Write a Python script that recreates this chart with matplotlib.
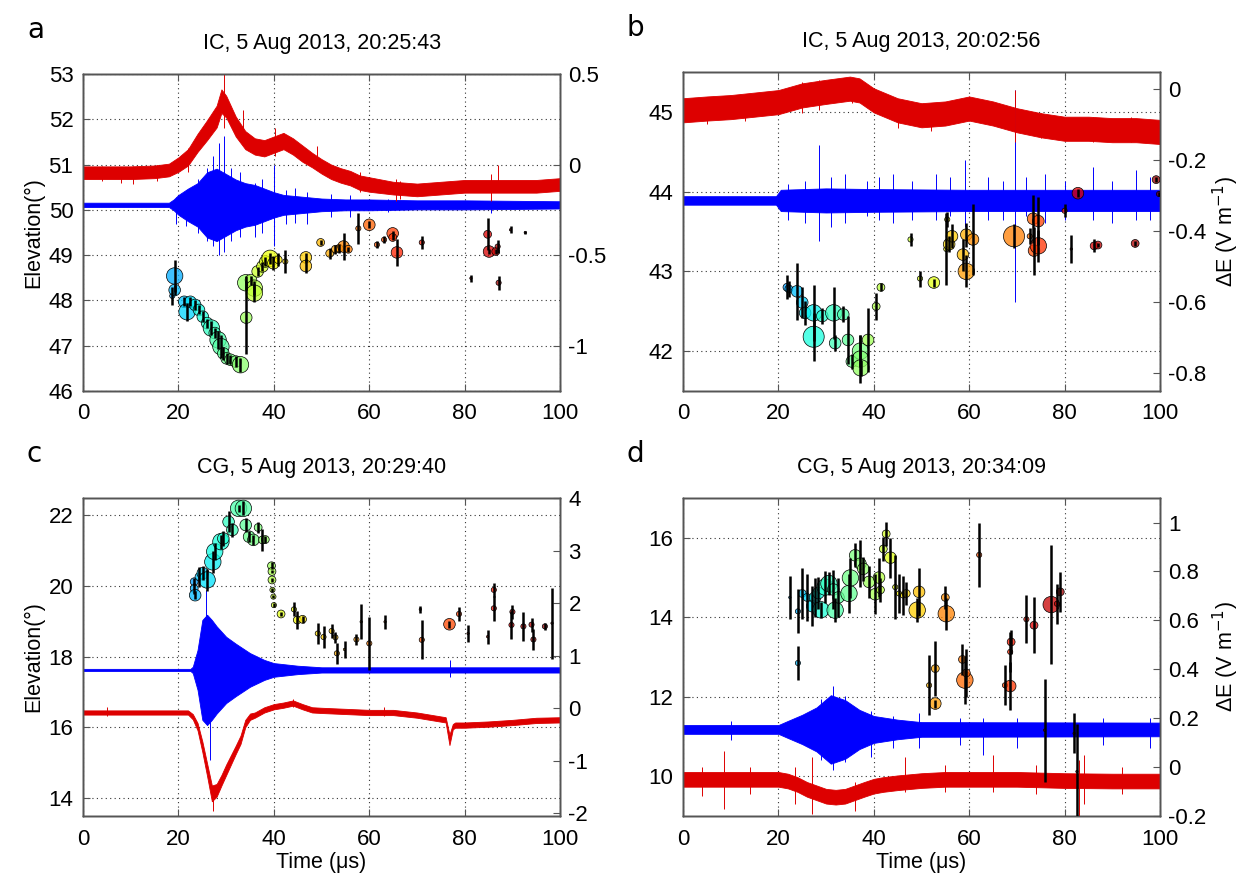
import numpy as np
import matplotlib
matplotlib.use("Agg")
import matplotlib.pyplot as plt
from matplotlib.ticker import FormatStrFormatter

plt.rcParams['font.family'] = ['Liberation Sans', 'DejaVu Sans']
plt.rcParams['axes.unicode_minus'] = False

# ---------------- data ----------------
# source points: (time us, elevation deg, error half-length deg, size class)
a_points = [
    (18.7, 48.10, 0.20, 1), (19.2, 48.54, 0.35, 4), (19.2, 48.23, 0.10, 3),
    (21.2, 47.97, 0.10, 3), (21.8, 47.75, 0.20, 4), (22.5, 47.97, 0.10, 3),
    (23.5, 47.90, 0.12, 3), (24.3, 47.79, 0.10, 3), (25.1, 47.64, 0.12, 3),
    (26.0, 47.50, 0.10, 3), (26.9, 47.39, 0.15, 4), (27.6, 47.28, 0.12, 3),
    (28.3, 47.13, 0.20, 4), (28.9, 46.98, 0.25, 4), (29.4, 46.83, 0.15, 3),
    (30.1, 46.72, 0.12, 3), (30.9, 46.69, 0.10, 3), (32.0, 46.65, 0.12, 3),
    (33.0, 46.58, 0.15, 4), (34.1, 48.39, 0.15, 4), (34.2, 47.62, 0.80, 3),
    (35.2, 48.45, 0.10, 3), (35.9, 48.27, 0.15, 4), (35.9, 48.16, 0.20, 4),
    (36.6, 48.64, 0.10, 3), (37.6, 48.75, 0.10, 3), (38.2, 48.86, 0.10, 3),
    (39.2, 48.93, 0.12, 4), (39.9, 48.82, 0.15, 3), (40.9, 48.90, 0.15, 2),
    (42.4, 48.86, 0.25, 1), (46.7, 48.95, 0.10, 3), (46.7, 48.76, 0.15, 3),
    (49.8, 49.28, 0.05, 2), (51.7, 49.04, 0.12, 2), (52.9, 49.13, 0.10, 2),
    (53.7, 49.15, 0.10, 2), (54.6, 49.19, 0.30, 3), (55.6, 49.13, 0.05, 2),
    (57.7, 49.59, 0.35, 1), (60.0, 49.67, 0.08, 3), (61.6, 49.23, 0.08, 1),
    (63.1, 49.34, 0.08, 1), (64.9, 49.48, 0.05, 3), (64.9, 49.39, 0.05, 2),
    (65.8, 49.06, 0.30, 3), (71.0, 49.28, 0.15, 1), (81.3, 48.49, 0.08, 0),
    (84.8, 49.46, 0.35, 2), (85.1, 49.08, 0.05, 3), (86.5, 49.08, 0.05, 2),
    (86.9, 49.19, 0.15, 1), (87.1, 48.39, 0.15, 1), (89.6, 49.56, 0.08, 0),
    (92.7, 49.50, 0.03, 0),
]
b_points = [
    (21.8, 42.80, 0.15, 2), (22.2, 42.78, 0.10, 2), (23.9, 42.75, 0.36, 3),
    (25.0, 42.61, 0.20, 3), (25.6, 42.48, 0.15, 3), (27.4, 42.48, 0.35, 4),
    (27.4, 42.18, 0.30, 5), (29.2, 42.44, 0.10, 3), (31.6, 42.48, 0.33, 4),
    (31.9, 42.10, 0.10, 3), (33.6, 42.46, 0.10, 3), (34.6, 42.14, 0.30, 3),
    (35.4, 41.87, 0.10, 3), (37.2, 42.00, 0.20, 4), (37.2, 41.90, 0.30, 4),
    (37.3, 41.79, 0.10, 4), (38.8, 42.14, 0.40, 3), (40.5, 42.56, 0.17, 2),
    (41.5, 42.80, 0.05, 2), (47.7, 43.40, 0.08, 1), (49.7, 42.91, 0.10, 1),
    (52.6, 42.86, 0.05, 3), (55.2, 43.28, 0.45, 1), (55.4, 43.65, 0.10, 1),
    (55.8, 43.34, 0.10, 3), (56.4, 43.44, 0.15, 3), (58.7, 43.21, 0.20, 3),
    (59.4, 43.46, 0.15, 3), (59.4, 43.00, 0.20, 4), (60.8, 43.40, 0.45, 3),
    (69.4, 43.44, 0.15, 5), (72.7, 43.44, 0.10, 1), (73.4, 43.66, 0.30, 3),
    (73.6, 43.26, 0.30, 3), (74.5, 43.63, 0.30, 3), (74.5, 43.32, 0.20, 4),
    (80.0, 43.76, 0.08, 1), (81.4, 43.28, 0.17, 0), (82.8, 43.98, 0.05, 3),
    (86.2, 43.32, 0.08, 2), (87.0, 43.33, 0.03, 2), (94.8, 43.35, 0.03, 2),
    (99.2, 44.15, 0.03, 2), (99.8, 43.97, 0.03, 1),
]
c_points = [
    (23.3, 20.11, 0.10, 2), (23.3, 19.92, 0.15, 2), (23.5, 19.73, 0.12, 3),
    (24.3, 20.25, 0.28, 2), (25.1, 20.35, 0.20, 3), (26.0, 20.16, 0.30, 4),
    (27.2, 20.67, 0.30, 4), (27.6, 20.96, 0.25, 4), (28.9, 21.24, 0.20, 4),
    (29.4, 21.33, 0.20, 3), (30.5, 21.80, 0.30, 3), (31.3, 21.57, 0.20, 3),
    (32.6, 22.18, 0.10, 4), (33.6, 22.18, 0.20, 4), (34.1, 21.71, 0.20, 3),
    (34.8, 21.38, 0.15, 3), (35.7, 21.29, 0.15, 3), (36.7, 21.64, 0.15, 2),
    (37.6, 21.29, 0.30, 2), (38.2, 21.30, 0.10, 2), (39.5, 20.56, 0.10, 2),
    (39.6, 20.40, 0.05, 2), (39.6, 20.16, 0.05, 2), (39.7, 19.88, 0.05, 1),
    (39.9, 19.69, 0.05, 1), (40.0, 19.45, 0.05, 1), (41.5, 19.20, 0.05, 2),
    (44.2, 19.33, 0.20, 1), (44.9, 19.03, 0.25, 2), (46.0, 19.05, 0.10, 2),
    (49.2, 18.65, 0.30, 1), (50.4, 18.55, 0.30, 1), (52.1, 18.72, 0.20, 1),
    (52.9, 18.54, 0.15, 1), (53.2, 18.09, 0.30, 1), (54.8, 18.20, 0.25, 0),
    (57.3, 18.48, 0.15, 1), (58.3, 18.98, 0.50, 0), (60.0, 18.37, 0.75, 1),
    (63.3, 18.98, 0.20, 0), (70.7, 19.33, 0.10, 0), (71.0, 18.47, 0.55, 1),
    (76.8, 18.91, 0.10, 3), (78.8, 19.20, 0.20, 1), (80.7, 18.65, 0.25, 0),
    (84.8, 18.56, 0.20, 0), (86.1, 19.88, 0.20, 1), (86.1, 19.36, 0.35, 1),
    (89.8, 18.89, 0.40, 1), (90.0, 19.26, 0.20, 1), (92.3, 18.85, 0.40, 1),
    (94.0, 18.90, 0.20, 1), (94.4, 18.48, 0.30, 1), (96.8, 18.85, 0.10, 1),
    (98.3, 18.94, 1.00, 0),
]
d_points = [
    (22.4, 14.50, 0.55, 0), (24.1, 14.15, 0.55, 1), (24.1, 12.85, 0.42, 1),
    (25.0, 14.60, 0.65, 2), (26.0, 14.50, 0.60, 2), (27.1, 14.28, 0.50, 3),
    (27.7, 14.50, 0.50, 3), (28.4, 14.61, 0.40, 3), (28.9, 14.19, 0.20, 4),
    (29.8, 14.76, 0.40, 4), (30.6, 14.85, 0.30, 4), (31.5, 14.70, 0.50, 3),
    (31.9, 14.18, 0.30, 4), (32.6, 14.50, 0.50, 3), (34.8, 14.60, 0.50, 4),
    (35.1, 14.99, 0.50, 4), (36.1, 15.56, 0.30, 3), (37.2, 15.35, 0.60, 3),
    (37.8, 15.22, 0.30, 3), (39.0, 14.89, 0.40, 3), (40.3, 14.58, 0.50, 3),
    (41.1, 15.00, 0.50, 3), (41.4, 14.69, 0.30, 2), (42.0, 15.72, 0.30, 2),
    (42.6, 16.10, 0.30, 2), (43.5, 15.50, 0.50, 3), (44.5, 14.76, 0.80, 1),
    (45.3, 14.60, 0.50, 1), (46.1, 14.55, 0.50, 1), (46.8, 14.60, 0.30, 2),
    (49.1, 14.18, 0.30, 4), (49.5, 14.64, 0.60, 3), (51.6, 12.29, 0.75, 1),
    (52.9, 12.71, 0.70, 2), (52.9, 11.83, 0.10, 3), (55.0, 14.50, 0.30, 2),
    (55.2, 14.09, 0.40, 4), (58.6, 12.94, 0.40, 2), (59.1, 12.42, 0.60, 4),
    (59.4, 12.60, 0.60, 2), (62.1, 15.57, 0.80, 1), (67.5, 12.29, 0.50, 1),
    (68.6, 12.27, 0.60, 3), (68.6, 13.13, 0.50, 1), (68.8, 13.38, 0.30, 2),
    (72.0, 13.95, 0.60, 1), (73.6, 13.80, 0.70, 2), (75.8, 11.16, 1.30, 0),
    (77.2, 14.32, 1.50, 4), (78.4, 14.34, 0.50, 1), (79.1, 14.64, 0.50, 2),
    (82.0, 11.08, 0.50, 0), (82.6, 10.12, 1.20, 0),
]

# field change records (V/m): envelope centre and half-width vs time
a_red_t = [0, 5, 10, 15, 18, 20, 22, 24, 26, 28, 29, 30, 32, 34, 36, 38, 40, 42, 44,
           46, 48, 50, 52, 54, 56, 58, 60, 65, 70, 75, 80, 85, 90, 95, 100]
a_red_mid = [-0.045, -0.045, -0.045, -0.04, -0.03, 0.0, 0.04, 0.12, 0.19, 0.265, 0.35,
             0.32, 0.21, 0.135, 0.10, 0.09, 0.11, 0.13, 0.10, 0.06, 0.025, -0.01, -0.04,
             -0.06, -0.075, -0.10, -0.11, -0.13, -0.14, -0.13, -0.12, -0.12, -0.12,
             -0.12, -0.11]
a_red_half = [0.035, 0.035, 0.035, 0.035, 0.035, 0.04, 0.045, 0.05, 0.055, 0.06, 0.065,
              0.06, 0.055, 0.05, 0.045, 0.045, 0.045, 0.045, 0.045, 0.045, 0.04, 0.04,
              0.04, 0.04, 0.04, 0.04, 0.04, 0.035, 0.035, 0.035, 0.035, 0.035, 0.035,
              0.035, 0.035]
a_blue_t = [0, 18, 19, 20, 22, 24, 26, 28, 30, 32, 34, 36, 38, 40, 42, 44, 46, 50, 55,
            60, 70, 80, 100]
a_blue_mid = -0.2225
a_blue_half = [0.012, 0.012, 0.03, 0.055, 0.09, 0.12, 0.18, 0.20, 0.17, 0.14, 0.12, 0.11,
               0.09, 0.07, 0.055, 0.05, 0.045, 0.035, 0.03, 0.03, 0.025, 0.025, 0.02]
a_red_spikes = [(29.6, 0.20, 0.50), (10.5, -0.11, -0.01), (65.5, -0.20, -0.08),
                (85.5, -0.20, -0.05), (87.0, -0.15, 0.0), (22.0, -0.04, 0.09),
                (33.5, 0.12, 0.30), (40.2, 0.05, 0.20), (49.0, -0.03, 0.10),
                (58.0, -0.15, -0.04), (66.5, -0.19, -0.09), (8.0, -0.10, -0.02),
                (4.0, -0.09, -0.01), (15.5, -0.09, 0.0)]
a_blue_spikes = [(28.5, -0.50, 0.12), (29.6, -0.48, 0.155), (27.2, -0.45, 0.05),
                 (40.1, -0.45, 0.0), (36.0, -0.40, -0.10), (47.0, -0.33, -0.15),
                 (19.5, -0.33, -0.18), (21.5, -0.34, -0.14), (24.0, -0.38, -0.08),
                 (26.0, -0.42, -0.02), (31.0, -0.42, -0.02), (33.0, -0.40, -0.04),
                 (37.5, -0.38, -0.08), (42.5, -0.33, -0.14), (44.5, -0.32, -0.13),
                 (52.0, -0.29, -0.16), (56.0, -0.29, -0.17), (64.0, -0.26, -0.19),
                 (85.5, -0.27, -0.19)]

b_red_t = [0, 5, 10, 15, 20, 25, 30, 35, 37, 40, 45, 50, 55, 60, 65, 70, 75, 80, 85,
           90, 95, 100]
b_red_mid = [-0.061, -0.056, -0.052, -0.045, -0.038, -0.019, -0.009, 0.0, -0.005,
             -0.033, -0.061, -0.075, -0.07, -0.056, -0.07, -0.089, -0.103, -0.113,
             -0.113, -0.117, -0.117, -0.122]
b_red_half = [0.034] * 22
b_blue_t = [0, 19.5, 20.5, 30, 40, 60, 80, 100]
b_blue_mid = -0.315
b_blue_half = [0.012, 0.012, 0.03, 0.034, 0.032, 0.03, 0.03, 0.03]
b_red_spikes = [(69.6, -0.15, -0.005), (60.0, -0.09, -0.02), (25.0, -0.07, 0.02),
                (28.5, -0.06, 0.025), (35.5, -0.04, 0.03), (45.0, -0.11, -0.03),
                (52.0, -0.12, -0.04), (75.0, -0.14, -0.07), (86.0, -0.15, -0.08),
                (94.0, -0.15, -0.08), (5.0, -0.10, -0.03), (13.0, -0.09, -0.02)]
b_blue_spikes = [(28.5, -0.43, -0.16), (59.2, -0.39, -0.20), (69.6, -0.60, -0.005),
                 (44.0, -0.38, -0.24), (34.0, -0.38, -0.24), (38.5, -0.36, -0.26),
                 (86.0, -0.37, -0.22), (95.0, -0.37, -0.23), (53.0, -0.37, -0.24),
                 (64.0, -0.37, -0.25), (76.0, -0.38, -0.24), (22.0, -0.37, -0.27),
                 (25.5, -0.38, -0.26), (31.0, -0.39, -0.25), (41.0, -0.37, -0.25),
                 (48.0, -0.37, -0.26), (56.0, -0.36, -0.25), (67.0, -0.37, -0.26),
                 (72.0, -0.36, -0.25), (80.0, -0.37, -0.26), (90.0, -0.38, -0.26),
                 (98.0, -0.37, -0.25)]

c_red_t = [0, 22, 23, 24, 25, 26, 27, 28, 29, 30, 31, 32, 33, 34, 35, 36, 38, 40, 42,
           44, 46, 48, 50, 55, 60, 65, 70, 74, 76, 76.8, 77.5, 78, 80, 85, 90, 95, 100]
c_red_mid = [-0.08, -0.08, -0.16, -0.35, -0.73, -1.17, -1.62, -1.56, -1.37, -1.17,
             -0.98, -0.79, -0.60, -0.29, -0.16, -0.13, -0.03, 0.03, 0.06, 0.10, 0.03,
             -0.03, -0.04, -0.06, -0.08, -0.08, -0.13, -0.19, -0.22, -0.60, -0.35,
             -0.32, -0.32, -0.30, -0.27, -0.23, -0.22]
c_red_half = [0.04, 0.04, 0.05, 0.07, 0.1, 0.12, 0.15, 0.12, 0.1, 0.1, 0.09, 0.08, 0.08,
              0.07, 0.06, 0.05, 0.05, 0.05, 0.05, 0.05, 0.05, 0.05, 0.05, 0.05, 0.05,
              0.05, 0.05, 0.05, 0.05, 0.1, 0.05, 0.05, 0.05, 0.05, 0.05, 0.05, 0.05]
c_blue_t = [0, 22.5, 23, 24, 25, 26, 27, 28, 30, 32, 35, 38, 40, 45, 50, 100]
c_blue_mid = 0.73
c_blue_half = [0.02, 0.02, 0.06, 0.38, 0.95, 1.05, 0.95, 0.83, 0.63, 0.5, 0.32, 0.19,
               0.13, 0.08, 0.05, 0.05]
c_red_spikes = [(27.3, -1.95, -1.55), (5.0, -0.14, 0.02), (44.0, 0.02, 0.18),
                (63.0, -0.14, 0.02)]
c_blue_spikes = [(25.8, 0.5, 2.25), (26.6, -0.98, 0.2), (77.0, 0.6, 0.92)]

d_red_t = [0, 10, 20, 22, 24, 26, 28, 30, 32, 34, 36, 38, 40, 42, 45, 50, 55, 60, 70,
           80, 90, 100]
d_red_mid = [-0.05, -0.05, -0.05, -0.057, -0.071, -0.091, -0.105, -0.119, -0.123,
             -0.119, -0.105, -0.091, -0.078, -0.071, -0.064, -0.055, -0.05, -0.05,
             -0.05, -0.055, -0.057, -0.057]
d_red_half = [0.03] * 22
d_blue_t = [0, 20, 22, 25, 28, 31, 34, 37, 40, 45, 50, 100]
d_blue_mid = 0.154
d_blue_half = [0.018, 0.018, 0.035, 0.06, 0.09, 0.14, 0.12, 0.08, 0.055, 0.04, 0.03,
               0.028]
d_red_spikes = [(8.5, -0.17, 0.065), (27.0, -0.19, 0.04), (46.5, -0.10, 0.04),
                (65.0, -0.10, 0.05), (83.0, -0.20, 0.03), (84.0, -0.15, 0.05),
                (4.0, -0.12, 0.0), (23.5, -0.15, 0.0), (14.0, -0.11, 0.0),
                (36.0, -0.18, -0.06), (55.0, -0.10, 0.01), (74.0, -0.11, 0.01),
                (92.0, -0.11, 0.0)]
d_blue_spikes = [(31.5, -0.01, 0.33), (49.5, 0.08, 0.22), (63.0, 0.05, 0.20),
                 (98.0, 0.08, 0.20), (29.0, 0.03, 0.28), (34.0, 0.02, 0.29),
                 (39.5, 0.04, 0.23), (44.0, 0.08, 0.21), (58.0, 0.09, 0.20),
                 (70.0, 0.08, 0.20), (88.0, 0.09, 0.20), (10.0, 0.11, 0.19)]

size_class = {0: 3, 1: 14, 2: 32, 3: 70, 4: 140, 5: 230}
RED = '#dd0000'
BLUE = '#0000ff'
SPINE = '#555555'


def panel(rect, letter, title, points, red, blue, ylim_l, yt_l, ylim_r, yt_r,
          left_label=False, right_label=False, time_label=False):
    ax = fig.add_axes(rect)
    axw = ax.twinx()
    axs = ax.twinx()

    # waveforms on the right (field change) axis
    rt, rmid, rhalf, rsp = red
    bt, bmid, bhalf, bsp = blue
    bt = np.array(bt)
    axw.fill_between(bt, bmid - np.array(bhalf), bmid + np.array(bhalf),
                     color=BLUE, lw=0.6)
    for t, lo, hi in bsp:
        axw.vlines(t, lo, hi, color=BLUE, lw=0.7)
    rmid = np.array(rmid)
    rhalf = np.array(rhalf)
    axw.fill_between(rt, rmid - rhalf, rmid + rhalf, color=RED, lw=0.6)
    for t, lo, hi in rsp:
        axw.vlines(t, lo, hi, color=RED, lw=0.7)

    # located sources on the elevation axis, coloured in time order
    pts = np.array(points)
    t, el, er, sc = pts.T
    n = len(t)
    cols = plt.get_cmap('jet')(0.28 + 0.71 * np.arange(n) / (n - 1))
    cols[:, 3] = 0.75
    sizes = [size_class[int(k)] for k in sc]
    axs.scatter(t, el, s=sizes, c=cols, edgecolors='k', linewidths=0.5, zorder=3)
    axs.vlines(t, el - er, el + er, color='k', lw=1.8, zorder=4)

    for a in (ax, axs):
        a.set_ylim(*ylim_l)
    ax.set_xlim(0, 100)
    ax.set_xticks(range(0, 101, 20))
    ax.set_yticks(yt_l)
    axw.set_ylim(*ylim_r)
    axw.set_yticks(yt_r)
    axw.yaxis.set_major_formatter(FormatStrFormatter('%g'))
    axs.set_yticks([])

    ax.grid(True, ls=(0, (1, 3)), color='#333333', lw=0.8)
    ax.tick_params(direction='in', labelsize=16, length=5, top=True, right=False,
                   color=SPINE)
    ax.tick_params(axis='x', pad=9)
    ax.tick_params(axis='y', pad=7)
    axw.tick_params(direction='in', labelsize=16, length=5, color=SPINE, pad=6)
    for a in (ax, axw, axs):
        for sp in a.spines.values():
            sp.set_color(SPINE)
            sp.set_linewidth(1.0)

    ax.set_title(title, fontsize=15.5, pad=18)
    if left_label:
        ax.set_ylabel('Elevation(°)', fontsize=15.5, labelpad=3)
    if right_label:
        axw.set_ylabel('ΔE (V m$^{-1}$)', fontsize=15.5, labelpad=3)
    if time_label:
        ax.set_xlabel('Time (μs)', fontsize=15.5, labelpad=2)
    x0 = rect[0] - 0.045
    y0 = rect[1] + rect[3] + 0.05
    fig.text(x0, y0, letter, fontsize=20, family='DejaVu Sans', va='center')
    return ax


fig = plt.figure(figsize=(12.47, 8.82), dpi=100)

panel([0.0666, 0.5567, 0.3826, 0.3594], 'a', 'IC, 5 Aug 2013, 20:25:43', a_points,
      (a_red_t, a_red_mid, a_red_half, a_red_spikes),
      (a_blue_t, a_blue_mid, a_blue_half, a_blue_spikes),
      (46, 53), range(46, 54), (-1.25, 0.5), [-1, -0.5, 0, 0.5],
      left_label=True)
panel([0.5477, 0.5567, 0.3825, 0.3617], 'b', 'IC, 5 Aug 2013, 20:02:56', b_points,
      (b_red_t, b_red_mid, b_red_half, b_red_spikes),
      (b_blue_t, b_blue_mid, b_blue_half, b_blue_spikes),
      (41.5, 45.5), [42, 43, 44, 45], (-0.852, 0.047), [-0.8, -0.6, -0.4, -0.2, 0],
      right_label=True)
panel([0.0666, 0.0748, 0.3826, 0.3605], 'c', 'CG, 5 Aug 2013, 20:29:40', c_points,
      (c_red_t, c_red_mid, c_red_half, c_red_spikes),
      (c_blue_t, c_blue_mid, c_blue_half, c_blue_spikes),
      (13.5, 22.47), range(14, 23, 2), (-2.05, 4.0), range(-2, 5),
      left_label=True, time_label=True)
panel([0.5477, 0.0748, 0.3825, 0.3605], 'd', 'CG, 5 Aug 2013, 20:34:09', d_points,
      (d_red_t, d_red_mid, d_red_half, d_red_spikes),
      (d_blue_t, d_blue_mid, d_blue_half, d_blue_spikes),
      (9, 17), range(10, 17, 2), (-0.2, 1.1), [-0.2, 0, 0.2, 0.4, 0.6, 0.8, 1],
      right_label=True, time_label=True)

fig.savefig('out.png', dpi=100)
